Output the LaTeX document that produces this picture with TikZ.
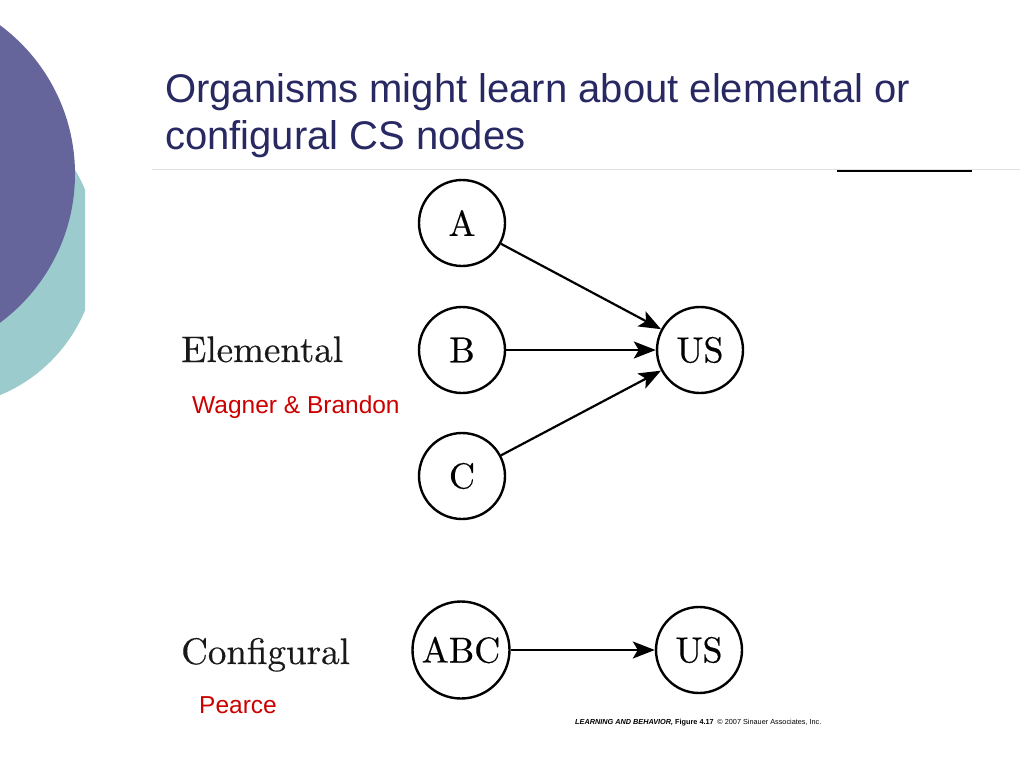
\documentclass[tikz,border=0pt]{standalone}
\usepackage{fontspec}
\newfontfamily\arialfont{Liberation Sans}
\newfontfamily\figfont{lmroman10-regular.otf}[FakeBold=0.35]
\usetikzlibrary{arrows.meta}
\definecolor{slidepurple}{RGB}{101,101,155}
\definecolor{slideteal}{RGB}{155,203,204}
\definecolor{titleblue}{RGB}{40,40,98}
\definecolor{refred}{RGB}{204,0,0}
\tikzset{
  csnode/.style={draw, circle, line width=2.4pt, minimum size=86pt, inner sep=0pt, font=\figfont\fontsize{36}{40}\selectfont},
  bignode/.style={csnode, minimum size=97pt},
  link/.style={line width=2.2pt, -{Stealth[length=22pt,width=17pt,inset=5pt]}},
  titletext/.style={anchor=base west, inner sep=0pt, text=titleblue, font=\arialfont\fontsize{40}{44}\selectfont},
  labeltext/.style={anchor=base west, inner sep=0pt, text=black!90, font=\figfont\fontsize{37}{40}\selectfont},
  reftext/.style={anchor=base west, inner sep=0pt, text=refred, font=\arialfont\fontsize{24.5}{28}\selectfont},
}
\begin{document}
\begin{tikzpicture}[x=1pt,y=-1pt]
\useasboundingbox (0,0) rectangle (1024,768);
\fill[white] (0,0) rectangle (1024,768);
% decorative circles
\begin{scope}
  \clip (0,0) rectangle (85,768);
  \fill[slideteal] (-60,250) circle[radius=157];
\end{scope}
\begin{scope}
  \clip (0,0) rectangle (1024,768);
  \fill[slidepurple] (-110,174) circle[radius=185];
\end{scope}
% title
\node[titletext] (t1) at (165,102) {Organisms might learn about elemental or};
\node[titletext] (t2) at (165,149) {configural CS nodes};
\draw[black!12, line width=1pt] (152,169) -- (1020,169);
\draw[black, line width=1.5pt] (837,171) -- (972,171);
% elemental
\node[csnode] (A) at (462,223) {A};
\node[csnode] (B) at (462,350) {B};
\node[csnode] (C) at (462,476) {C};
\node[csnode] (US1) at (700,350) {US};
\draw[link] (A) -- (US1);
\draw[link] (B) -- (US1);
\draw[link] (C) -- (US1);
\node[labeltext] (el) at (181,362) {Elemental};
\node[reftext] (wb) at (192,413) {Wagner \& Brandon};
% configural
\node[bignode] (ABC) at (461,650) {ABC};
\node[csnode] (US2) at (699,650) {US};
\draw[link] (ABC) -- (US2);
\node[labeltext] (cf) at (181,664) {Configural};
\node[reftext] (pe) at (199,713) {Pearce};
% caption
\node[anchor=base west, inner sep=0pt, font=\arialfont\fontsize{7.3}{8}\selectfont] (cap) at (575,724)
  {\textbf{\textit{LEARNING AND BEHAVIOR,}} \textbf{Figure 4.17}\enspace\copyright\ 2007 Sinauer Associates, Inc.};
\end{tikzpicture}
\end{document}
